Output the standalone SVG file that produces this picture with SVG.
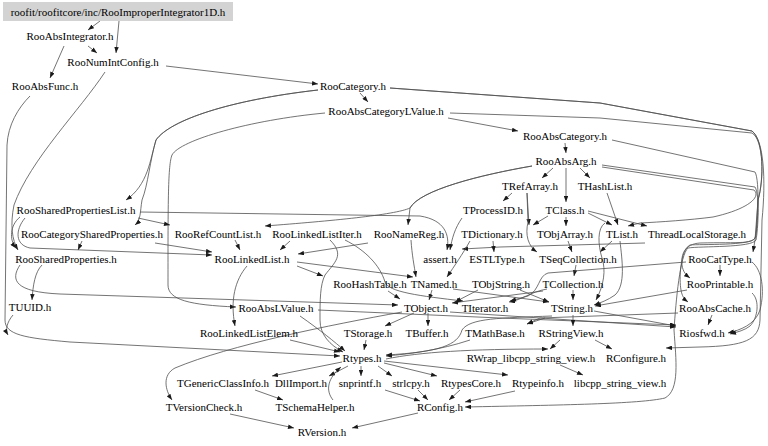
<svg xmlns="http://www.w3.org/2000/svg" width="768" height="446" viewBox="0 0 768 446">
<style>
.t text{font-family:'Liberation Serif','Times New Roman',Times,serif;font-size:11px;fill:#000;text-anchor:middle}
.e path{fill:none;stroke:#505050;stroke-width:0.8}
.a{marker-end:url(#ah)}
</style>
<defs>
<marker id="ah" viewBox="0 0 8 6" markerWidth="6.5" markerHeight="4.5" refX="8" refY="3" orient="auto" markerUnits="userSpaceOnUse">
<path d="M0,0 L8,3 L0,6 z" fill="#1a1a1a"/>
</marker>
</defs>
<rect width="768" height="446" fill="#fff"/>
<g id="edges" class="e">
<path class="a" d="M100,21 L88,30"/>
<path class="a" d="M119,21 L116,53"/>
<path class="a" d="M88,46 L97,53"/>
<path class="a" d="M64,46 L50,78"/>
<path class="a" d="M166,66 L318,84"/>
<path class="a" d="M105,72 C80,110 30,160 14,205 C10,225 12,240 18,250"/>
<path class="a" d="M30,96 C18,108 8,125 7,145 L5,320 C5,335 25,338 70,342 L340,356"/>
<path class="a" d="M13,315 C7,322 5,330 8,335"/>
<path class="a" d="M360,93 L368,102"/>
<path class="a" d="M318,90 C230,100 170,120 156,140 C150,160 148,185 126,200"/>
<path class="a" d="M318,90 C230,100 170,120 156,140 C150,160 148,185 142,200 C140,212 141,220 135,225"/>
<path class="a" d="M325,113 C250,120 180,140 172,155 C168,165 168,200 168,285 C168,300 190,305 236,307"/>
<path class="a" d="M448,118 L518,131"/>
<path class="a" d="M450,113 L600,118 L752,133 C764,140 764,180 758,200 L755,240 L753,252"/>
<path class="a" d="M390,88 L600,103 L752,131 C764,140 764,180 758,200 L756,235 C755,245 740,242 700,243 C684,244 681,255 682,265 C683,272 686,275 690,278"/>
<path class="a" d="M612,140 L755,172 C760,180 758,230 755,238 C752,246 700,244 690,245 C680,250 679,280 681,290 C682,296 684,299 688,302"/>
<path class="a" d="M602,165 L755,187 C760,195 758,230 756,240 C752,248 700,246 688,248 C680,255 676,300 674,330 C676,360 680,390 665,398 C640,404 560,405 465,407"/>
<path class="a" d="M602,167 L754,190 C762,198 745,210 713,217 C690,220 660,222 640,223 L628,226"/>
<path class="a" d="M390,88 L600,103 L752,131 C764,140 766,180 762,220 L760,320 C759,340 745,346 700,347 L666,348"/>
<path class="a" d="M565,143 L566,153"/>
<path class="a" d="M553,168 L542,178"/>
<path class="a" d="M566,168 L566,202"/>
<path class="a" d="M580,168 L590,178"/>
<path class="a" d="M532,166 C480,175 420,190 410,208 L408,225"/>
<path class="a" d="M532,166 C480,175 420,190 410,208 C395,215 330,221 265,226"/>
<path class="a" d="M512,193 L503,201"/>
<path class="a" d="M527,193 L529,225"/>
<path class="a" d="M527,193 L528,222 C525,235 528,246 537,252"/>
<path class="a" d="M566,217 L566,226"/>
<path class="a" d="M548,216 L533,225"/>
<path class="a" d="M588,213 L612,225"/>
<path class="a" d="M588,211 L647,226"/>
<path class="a" d="M607,193 L618,225"/>
<path class="a" d="M462,218 C455,228 452,238 450,250"/>
<path class="a" d="M140,212 L420,216 C445,220 450,235 447,250"/>
<path class="a" d="M645,243 L500,247 L462,249"/>
<path class="a" d="M493,241 L494,252"/>
<path class="a" d="M470,241 C462,255 455,265 447,277"/>
<path class="a" d="M568,241 L572,252"/>
<path class="a" d="M612,241 L600,252"/>
<path class="a" d="M620,241 C622,260 626,285 615,295 C608,300 600,303 594,305"/>
<path class="a" d="M605,223 C597,228 598,245 602,258 C606,270 604,285 596,300"/>
<path class="a" d="M576,265 L574,276"/>
<path class="a" d="M573,290 L573,300"/>
<path class="a" d="M543,291 L452,303"/>
<path class="a" d="M547,289 C530,292 522,300 509,302"/>
<path class="a" d="M432,290 L429,300"/>
<path class="a" d="M453,289 L549,302"/>
<path class="a" d="M478,290 L455,302"/>
<path class="a" d="M520,290 L549,302"/>
<path class="a" d="M411,240 C412,255 414,265 416,277"/>
<path class="a" d="M297,262 L413,277"/>
<path class="a" d="M297,266 L323,276"/>
<path class="a" d="M247,266 C235,280 230,300 235,326"/>
<path class="a" d="M345,240 C365,250 380,265 385,282 C388,292 420,296 463,301"/>
<path class="a" d="M388,291 L400,299"/>
<path class="a" d="M20,265 C10,280 15,292 60,294 L398,305"/>
<path class="a" d="M318,310 L500,318 L676,325"/>
<path class="a" d="M300,316 C320,330 335,342 345,351"/>
<path class="a" d="M290,340 L340,352"/>
<path class="a" d="M330,240 C345,255 335,262 325,275 C320,285 320,300 320,320 C320,335 330,345 343,352"/>
<path class="a" d="M414,313 L385,326"/>
<path class="a" d="M428,313 L428,326"/>
<path class="a" d="M402,312 C330,325 230,345 175,368 C162,375 165,390 172,400"/>
<path class="a" d="M450,312 L676,327"/>
<path class="a" d="M366,340 L364,350"/>
<path class="a" d="M470,340 C440,350 410,354 386,356"/>
<path class="a" d="M552,316 C500,318 470,318 462,330 C458,345 440,352 386,355"/>
<path class="a" d="M545,318 L527,324"/>
<path class="a" d="M573,315 L573,326"/>
<path class="a" d="M594,311 L676,326"/>
<path class="a" d="M687,290 L595,306"/>
<path class="a" d="M686,262 L548,273 C538,276 540,290 528,296 L510,301"/>
<path class="a" d="M720,265 L720,276"/>
<path class="a" d="M752,262 C762,270 765,290 760,310 C755,325 740,330 728,333"/>
<path class="a" d="M752,293 C760,300 758,318 750,326 C745,330 738,332 730,334"/>
<path class="a" d="M712,315 L708,325"/>
<path class="a" d="M678,313 L540,318 L527,324"/>
<path class="a" d="M560,340 L550,349"/>
<path class="a" d="M595,340 L612,349"/>
<path class="a" d="M386,359 C420,352 470,349 548,349"/>
<path class="a" d="M560,365 L583,375"/>
<path class="a" d="M342,362 L272,376"/>
<path class="a" d="M348,366 L329,376"/>
<path class="a" d="M361,366 L361,376"/>
<path class="a" d="M378,366 L392,376"/>
<path class="a" d="M384,363 L437,376"/>
<path class="a" d="M384,361 L508,375"/>
<path class="a" d="M333,400 C325,390 328,378 341,367"/>
<path class="a" d="M255,390 L283,400"/>
<path class="a" d="M385,390 L420,401"/>
<path class="a" d="M418,390 L428,400"/>
<path class="a" d="M460,390 L449,400"/>
<path class="a" d="M515,391 L465,402"/>
<path class="a" d="M418,413 L352,428"/>
<path class="a" d="M230,414 L294,428"/>
<path class="a" d="M42,265 C35,272 33,285 32,300"/>
<path class="a" d="M138,218 L170,225"/>
<path class="a" d="M20,217 C10,225 9,240 16,248"/>
<path class="a" d="M25,218 C15,230 15,245 30,248 L212,255"/>
<path class="a" d="M82,241 L78,250"/>
<path class="a" d="M155,243 L212,252"/>
<path class="a" d="M235,240 L240,250"/>
<path class="a" d="M290,241 L280,250"/>
<path class="a" d="M368,243 L298,254"/>
</g>
<g class="t" font-family="Liberation Serif, serif">
<g id="n_root"><rect x="3" y="2" width="230" height="19" fill="#d3d3d3"/><text x="118" y="16">roofit/roofitcore/inc/RooImproperIntegrator1D.h</text></g>
<g id="n_RooAbsIntegrator"><text x="70" y="40">RooAbsIntegrator.h</text></g>
<g id="n_RooNumIntConfig"><text x="113" y="66">RooNumIntConfig.h</text></g>
<g id="n_RooAbsFunc"><text x="45" y="90">RooAbsFunc.h</text></g>
<g id="n_RooCategory"><text x="353" y="90">RooCategory.h</text></g>
<g id="n_RooAbsCategoryLValue"><text x="386" y="115">RooAbsCategoryLValue.h</text></g>
<g id="n_RooAbsCategory"><text x="565" y="140">RooAbsCategory.h</text></g>
<g id="n_RooAbsArg"><text x="566" y="165">RooAbsArg.h</text></g>
<g id="n_TRefArray"><text x="530" y="190">TRefArray.h</text></g>
<g id="n_THashList"><text x="605" y="190">THashList.h</text></g>
<g id="n_TProcessID"><text x="493" y="214">TProcessID.h</text></g>
<g id="n_TClass"><text x="565" y="214">TClass.h</text></g>
<g id="n_RooSharedPropertiesList"><text x="76" y="214">RooSharedPropertiesList.h</text></g>
<g id="n_RooCategorySharedProperties"><text x="92" y="238">RooCategorySharedProperties.h</text></g>
<g id="n_RooRefCountList"><text x="218" y="238">RooRefCountList.h</text></g>
<g id="n_RooLinkedListIter"><text x="317" y="238">RooLinkedListIter.h</text></g>
<g id="n_RooNameReg"><text x="409" y="238">RooNameReg.h</text></g>
<g id="n_TDictionary"><text x="492" y="238">TDictionary.h</text></g>
<g id="n_TObjArray"><text x="565" y="238">TObjArray.h</text></g>
<g id="n_TList"><text x="622" y="238">TList.h</text></g>
<g id="n_ThreadLocalStorage"><text x="697" y="238">ThreadLocalStorage.h</text></g>
<g id="n_RooSharedProperties"><text x="66" y="263">RooSharedProperties.h</text></g>
<g id="n_RooLinkedList"><text x="252" y="263">RooLinkedList.h</text></g>
<g id="n_assert"><text x="440" y="263">assert.h</text></g>
<g id="n_ESTLType"><text x="497" y="263">ESTLType.h</text></g>
<g id="n_TSeqCollection"><text x="578" y="263">TSeqCollection.h</text></g>
<g id="n_RooCatType"><text x="720" y="263">RooCatType.h</text></g>
<g id="n_RooHashTable"><text x="370" y="288">RooHashTable.h</text></g>
<g id="n_TNamed"><text x="434" y="288">TNamed.h</text></g>
<g id="n_TObjString"><text x="501" y="288">TObjString.h</text></g>
<g id="n_TCollection"><text x="573" y="288">TCollection.h</text></g>
<g id="n_RooPrintable"><text x="720" y="288">RooPrintable.h</text></g>
<g id="n_TUUID"><text x="30" y="311">TUUID.h</text></g>
<g id="n_RooAbsLValue"><text x="276" y="312">RooAbsLValue.h</text></g>
<g id="n_TObject"><text x="426" y="312">TObject.h</text></g>
<g id="n_TIterator"><text x="485" y="312">TIterator.h</text></g>
<g id="n_TString"><text x="572" y="312">TString.h</text></g>
<g id="n_RooAbsCache"><text x="715" y="312">RooAbsCache.h</text></g>
<g id="n_RooLinkedListElem"><text x="249" y="337">RooLinkedListElem.h</text></g>
<g id="n_TStorage"><text x="368" y="337">TStorage.h</text></g>
<g id="n_TBuffer"><text x="427" y="337">TBuffer.h</text></g>
<g id="n_TMathBase"><text x="495" y="337">TMathBase.h</text></g>
<g id="n_RStringView"><text x="571" y="337">RStringView.h</text></g>
<g id="n_Riosfwd"><text x="702" y="337">Riosfwd.h</text></g>
<g id="n_Rtypes"><text x="362" y="362">Rtypes.h</text></g>
<g id="n_RWrap"><text x="531" y="362">RWrap_libcpp_string_view.h</text></g>
<g id="n_RConfigure"><text x="636" y="362">RConfigure.h</text></g>
<g id="n_TGenericClassInfo"><text x="223" y="387">TGenericClassInfo.h</text></g>
<g id="n_DllImport"><text x="301" y="387">DllImport.h</text></g>
<g id="n_snprintf"><text x="360" y="387">snprintf.h</text></g>
<g id="n_strlcpy"><text x="411" y="387">strlcpy.h</text></g>
<g id="n_RtypesCore"><text x="471" y="387">RtypesCore.h</text></g>
<g id="n_Rtypeinfo"><text x="538" y="387">Rtypeinfo.h</text></g>
<g id="n_libcpp_string_view"><text x="620" y="387">libcpp_string_view.h</text></g>
<g id="n_TVersionCheck"><text x="204" y="411">TVersionCheck.h</text></g>
<g id="n_TSchemaHelper"><text x="315" y="411">TSchemaHelper.h</text></g>
<g id="n_RConfig"><text x="440" y="411">RConfig.h</text></g>
<g id="n_RVersion"><text x="322" y="436">RVersion.h</text></g>
</g>
</svg>
